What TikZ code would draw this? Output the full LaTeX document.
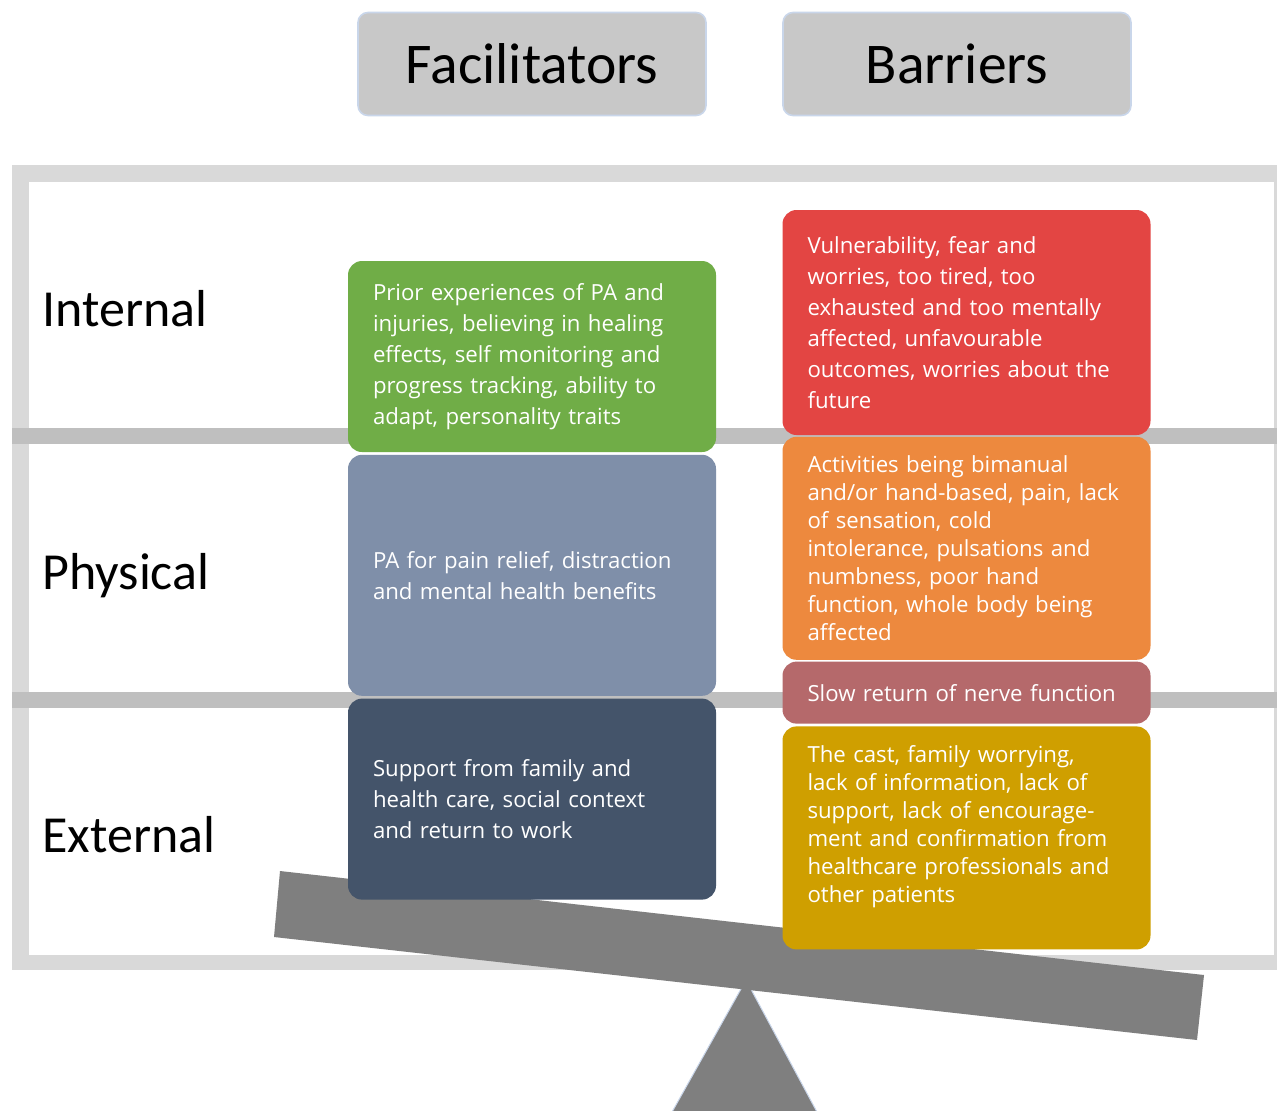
\documentclass[tikz,border=0pt]{standalone}
\usepackage{fontspec}
\setmainfont{Carlito}
\newfontfamily\boxfont{Open Sans}
\usetikzlibrary{positioning}

\definecolor{framegray}{HTML}{D9D9D9}
\definecolor{rowgray}{HTML}{BFBFBF}
\definecolor{beamgray}{HTML}{7F7F7F}
\definecolor{headgray}{HTML}{C8C8C8}
\definecolor{headblue}{HTML}{C9D6EA}
\definecolor{facgreen}{HTML}{70AD47}
\definecolor{facblue}{HTML}{7F8FA9}
\definecolor{facdark}{HTML}{44546A}
\definecolor{barred}{HTML}{E34543}
\definecolor{barorange}{HTML}{ED893E}
\definecolor{barmauve}{HTML}{B5696B}
\definecolor{bargold}{HTML}{CF9F00}

\begin{document}
\begin{tikzpicture}[x=0.5pt, y=-0.5pt, node distance=1pt,
                    head node/.style={draw=headblue, line width=0.8pt, fill=headgray, rounded corners=5pt,
                      minimum width=174pt, minimum height=51.5pt, font=\fontsize{28.8}{32}\selectfont},
                    row label/.style={anchor=base west, inner sep=0pt, font=\fontsize{26}{30}\selectfont},
                    factor/.style={rounded corners=7pt, text=white, align=left, text width=159pt,
                      inner xsep=12.5pt, inner ysep=0pt, font=\boxfont\fontsize{11.1}{15.5}\selectfont},
                    tight/.style={font=\boxfont\fontsize{11.1}{14}\selectfont}]

  \fill[white] (0,0) rectangle (1277,1110);
  \useasboundingbox (0,0) rectangle (1277,1110);
  \clip (0,0) rectangle (1277,1110);

  % frame and row bands
  \fill[framegray] (12,165) rectangle (1280,970);
  \fill[white] (29,182) rectangle (1274,955);
  \fill[rowgray] (12,428) rectangle (1280,444);
  \fill[rowgray] (12,692) rectangle (1280,708);

  % seesaw
  \fill[beamgray, draw=headblue, line width=0.5pt] (746,980) -- (817,1112) -- (672,1112) -- cycle;
  \fill[beamgray] (280,871) -- (1204,975) -- (1197,1040) -- (274,937) -- cycle;

  \node[head node] (fac) at (532,64) {Facilitators};
  \node[head node] (bar) at (957,64) {Barriers};

  \node[row label] (internal) at (42,326) {Internal};
  \node[row label] (physical) at (42,589) {Physical};
  \node[row label] (external) at (42,852) {External};

  \node[factor, fill=facgreen, minimum height=95.5pt] (green) at (532,356.5)
    {Prior experiences of PA and\\ injuries, believing in healing\\ effects, self monitoring and\\
     progress tracking, ability to\\ adapt, personality traits};
  \node[factor, fill=facblue, minimum height=120.5pt, below=of green] (blue)
    {PA for pain relief, distraction\\ and mental health benefits};
  \node[factor, fill=facdark, minimum height=100.5pt, below=of blue] (dark)
    {Support from family and\\ health care, social context\\ and return to work};

  \node[factor, fill=barred, minimum height=112.5pt] (red) at (966.5,322.5)
    {Vulnerability, fear and\\ worries, too tired, too\\ exhausted and too mentally\\
     affected, unfavourable\\ outcomes, worries about the\\ future};
  \node[factor, tight, fill=barorange, minimum height=111.5pt, below=0.5pt of red] (orange)
    {Activities being bimanual\\ and/or hand-based, pain, lack\\ of sensation, cold\\
     intolerance, pulsations and\\ numbness, poor hand\\ function, whole body being\\ affected};
  \node[factor, fill=barmauve, minimum height=31pt, below=0.5pt of orange] (mauve)
    {Slow return of nerve function};
  \node[factor, tight, fill=bargold, minimum height=111.5pt, below=of mauve] (gold)
    {The cast, family worrying,\\ lack of information, lack of\\ support, lack of encourage-\\
     ment and confirmation from\\ healthcare professionals and\\ other patients\\ \mbox{}};
\end{tikzpicture}
\end{document}
